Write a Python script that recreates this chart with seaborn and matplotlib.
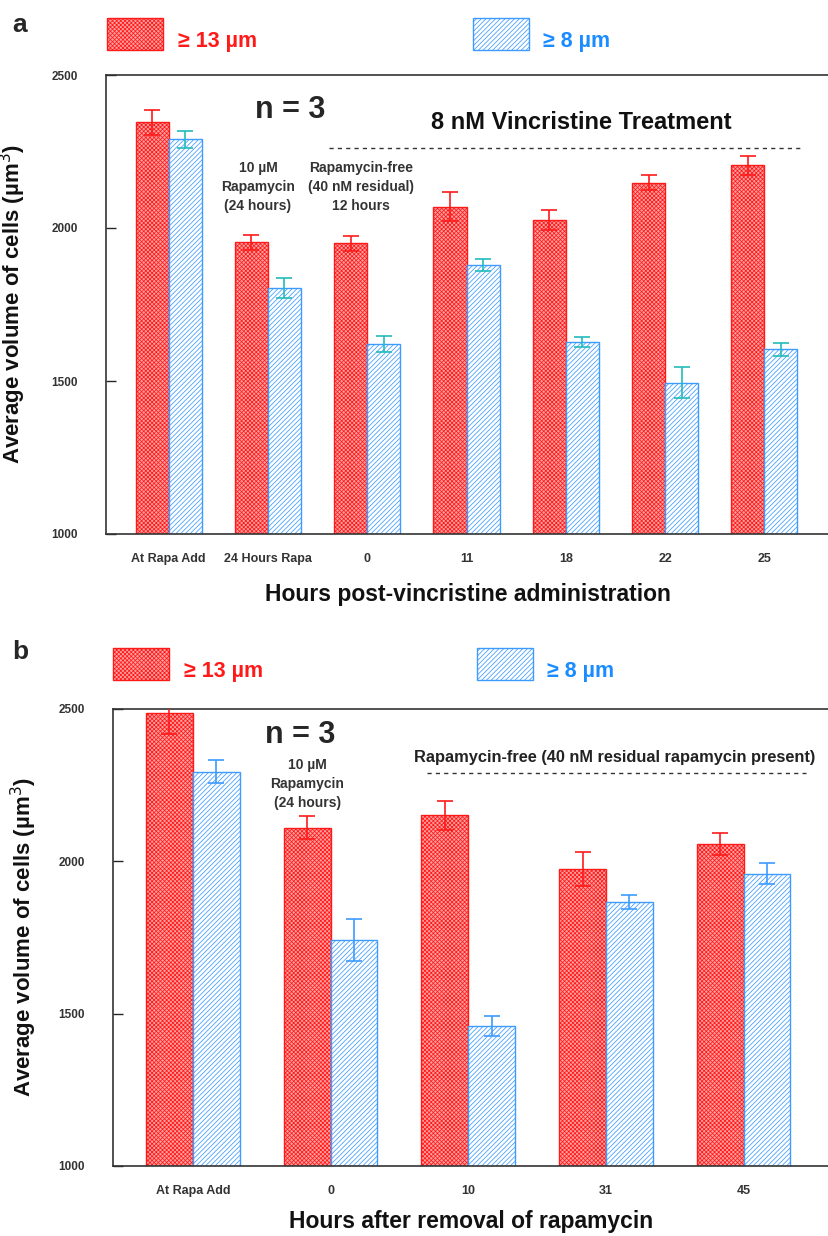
import matplotlib
matplotlib.use('Agg')
import matplotlib.pyplot as plt
from matplotlib.patches import Rectangle
import seaborn as sns
import pandas as pd

# panel a data
a_labels = ['At Rapa Add', '24 Hours Rapa', '0', '11', '18', '22', '25']
a_red = [2345, 1953, 1950, 2070, 2026, 2148, 2205]
a_red_err = [40, 25, 24, 48, 33, 24, 31]
a_blue = [2290, 1803, 1621, 1879, 1628, 1495, 1604]
a_blue_err = [28, 32, 25, 20, 16, 50, 21]

# panel b data
b_labels = ['At Rapa Add', '0', '10', '31', '45']
b_red = [2488, 2111, 2151, 1975, 2057]
b_red_err = [70, 37, 48, 55, 35]
b_blue = [2294, 1742, 1459, 1866, 1959]
b_blue_err = [38, 70, 33, 24, 34]

sizes = ['\u2265 13 \u00b5m', '\u2265 8 \u00b5m']

sns.set_style('white')
arial = ['Liberation Sans', 'DejaVu Sans']
plt.rcParams['font.family'] = arial
plt.rcParams['hatch.linewidth'] = 0.55

RED = '#ff1a1a'
RED_FACE = '#ffa0a0'
BLUE = '#3d9bff'
GREY = '#333333'


def make_df(labels, red, blue):
    return pd.DataFrame({
        'cond': labels * 2,
        'vol': red + blue,
        'size': [sizes[0]] * len(labels) + [sizes[1]] * len(labels),
    })


def draw_panel(ax, labels, red, red_err, blue, blue_err, width, blue_err_color, xlabel, xpad):
    df = make_df(labels, red, blue)
    sns.barplot(data=df, x='cond', y='vol', hue='size', order=labels, hue_order=sizes,
                width=width, errorbar=None, legend=False, ax=ax,
                palette=[RED_FACE, 'white'])
    errs = [red_err, blue_err]
    ecols = [RED, blue_err_color]
    bar_conts = list(ax.containers)
    for k, cont in enumerate(bar_conts):
        for p, e in zip(cont.patches, errs[k]):
            if k == 0:
                p.set_facecolor(RED_FACE)
                p.set_edgecolor(RED)
                p.set_hatch('xxxxxxxx')
            else:
                p.set_facecolor('white')
                p.set_edgecolor(BLUE)
                p.set_hatch('///////')
            p.set_linewidth(1.0)
            ax.errorbar(p.get_x() + p.get_width() / 2, p.get_height(), yerr=e,
                        fmt='none', ecolor=ecols[k], elinewidth=1.2, capsize=6,
                        capthick=1.2, zorder=5)
    ax.set_ylim(1000, 2500)
    ax.set_yticks([1000, 1500, 2000, 2500])
    ax.tick_params(axis='y', direction='in', length=7, width=1, left=True,
                   labelsize=8.5, pad=20)
    ax.tick_params(axis='x', length=0, labelsize=9, pad=14)
    for t in ax.get_yticklabels() + ax.get_xticklabels():
        t.set_fontweight('bold')
        t.set_color(GREY)
    ax.spines['right'].set_visible(False)
    for s in ['left', 'top', 'bottom']:
        ax.spines[s].set_color(GREY)
        ax.spines[s].set_linewidth(1.2)
    ax.set_xlabel(xlabel, fontsize=16.5, fontweight='bold', labelpad=xpad, color='#111111')
    ax.set_ylabel('Average volume of cells (\u00b5m$^3$)', fontsize=16, fontweight='bold',
                  color='#111111')


fig = plt.figure(figsize=(8.29, 12.36), dpi=100)
ax1 = fig.add_axes([106 / 829, 1 - 534 / 1236, 1 - 106 / 829, 459 / 1236])
ax2 = fig.add_axes([113 / 829, 1 - 1166 / 1236, 1 - 113 / 829, 457 / 1236])

draw_panel(ax1, a_labels, a_red, a_red_err, a_blue, a_blue_err, 0.665, '#22bbbb',
           'Hours post-vincristine administration', 13)
ax1.set_xlim(-0.63, 6.65)
ax1.yaxis.set_label_coords(-0.108, 0.5)

draw_panel(ax2, b_labels, b_red, b_red_err, b_blue, b_blue_err, 0.68, BLUE,
           'Hours after removal of rapamycin', 9)
ax2.set_xlim(-0.58, 4.62)
ax2.yaxis.set_label_coords(-0.104, 0.5)

# panel a annotations
ax1.text(1.22, 2386, 'n = 3', fontsize=22, fontweight='bold', ha='center', va='center')
ax1.text(4.16, 2346, '8 nM Vincristine Treatment', fontsize=17, fontweight='bold',
         ha='center', va='center', color='#111111')
ax1.hlines(2261, 1.62, 6.4, colors=GREY, linestyles=(0, (3, 3)), linewidth=1)
ax1.text(0.9, 2135, '10 \u00b5M\nRapamycin\n(24 hours)', fontsize=10, fontweight='bold',
         color=GREY, ha='center', va='center', linespacing=1.45)
ax1.text(1.94, 2135, 'Rapamycin-free\n(40 nM residual)\n12 hours', fontsize=10,
         fontweight='bold', color=GREY, ha='center', va='center', linespacing=1.45)

# panel b annotations
ax2.text(0.78, 2414, 'n = 3', fontsize=22, fontweight='bold', ha='center', va='center')
ax2.text(0.83, 2255, '10 \u00b5M\nRapamycin\n(24 hours)', fontsize=10, fontweight='bold',
         color=GREY, ha='center', va='center', linespacing=1.45)
ax2.text(3.06, 2342, 'Rapamycin-free (40 nM residual rapamycin present)', fontsize=11.8,
         fontweight='bold', color='#222222', ha='center', va='center', clip_on=False)
ax2.hlines(2290, 1.70, 4.45, colors=GREY, linestyles=(0, (3, 3)), linewidth=1)

# panel letters and legends
fig.text(12 / 829, 1 - 25 / 1236, 'a', fontsize=19, fontweight='bold', va='center')
fig.text(12 / 829, 1 - 652 / 1236, 'b', fontsize=19, fontweight='bold', va='center')


def legend_row(y_top, xr, xb):
    h = 32 / 1236
    w = 56 / 829
    fig.add_artist(Rectangle((xr / 829, 1 - y_top / 1236 - h), w, h, transform=fig.transFigure,
                             facecolor=RED_FACE, edgecolor=RED, hatch='xxxxxxxx', linewidth=1))
    fig.add_artist(Rectangle((xb / 829, 1 - y_top / 1236 - h), w, h, transform=fig.transFigure,
                             facecolor='white', edgecolor=BLUE, hatch='///////', linewidth=1))
    fig.text((xr + 71) / 829, 1 - (y_top + 24) / 1236, sizes[0], color=RED, fontsize=15.5,
             fontweight='bold', va='center')
    fig.text((xb + 70) / 829, 1 - (y_top + 24) / 1236, sizes[1], color='#1a8cff', fontsize=15.5,
             fontweight='bold', va='center')


legend_row(18, 107, 473)
legend_row(648, 113, 477)

fig.savefig('out.png', dpi=100)
